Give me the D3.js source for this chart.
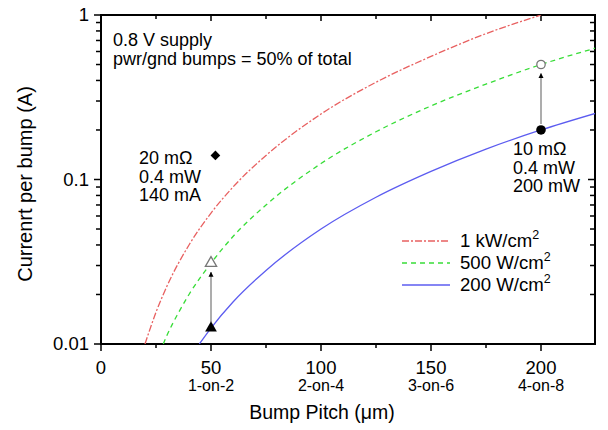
<!DOCTYPE html>
<html>
<head>
<meta charset="utf-8">
<script src="https://cdn.jsdelivr.net/npm/d3@7"></script>
<style>
  body { margin: 0; background: #fff; }
  svg { display: block; font-family: "Liberation Sans", Arial, sans-serif; }
</style>
</head>
<body>
<svg id="chart" width="608" height="430"></svg>
<script>
// curves: current per bump (A) vs bump pitch (um)
const redPitch   = [20, 25, 30, 40, 50, 60, 75, 100, 125, 150, 175, 200]
const redAmps    = [0.010, 0.0156, 0.0225, 0.040, 0.0625, 0.090, 0.14, 0.25, 0.39, 0.56, 0.77, 1.0]
const greenPitch = [28.3, 30, 35, 40, 50, 60, 75, 100, 125, 150, 175, 200, 225]
const greenAmps  = [0.010, 0.0113, 0.0153, 0.020, 0.031, 0.045, 0.070, 0.125, 0.195, 0.28, 0.38, 0.50, 0.63]
const bluePitch  = [44.7, 50, 60, 75, 100, 125, 150, 175, 200, 225]
const blueAmps   = [0.010, 0.0125, 0.018, 0.028, 0.050, 0.078, 0.112, 0.153, 0.20, 0.253]

const legendLabels = ["1 kW/cm", "500 W/cm", "200 W/cm"]

// markers
const diamond    = { pitch: 52, amps: 0.14 }
const triOpen    = { pitch: 50, amps: 0.031 }
const triFilled  = { pitch: 50, amps: 0.0125 }
const circOpen   = { pitch: 200, amps: 0.50 }
const circFilled = { pitch: 200, amps: 0.20 }

const xTicks = [0, 50, 100, 150, 200]
const xSubLabels = ["", "1-on-2", "2-on-4", "3-on-6", "4-on-8"]
const yTicks = [0.01, 0.1, 1]

const svg = d3.select("#chart")
const pLeft = 101, pRight = 595, pTop = 15, pBottom = 344

const x = d3.scaleLinear().domain([0, 225]).range([pLeft, pLeft + 225 * 2.2])
const y = d3.scaleLog().domain([0.01, 1]).range([pBottom, pTop])

const defs = svg.append("defs")
defs.append("clipPath").attr("id", "clip")
  .append("rect").attr("x", pLeft).attr("y", pTop).attr("width", pRight - pLeft).attr("height", pBottom - pTop)

const minorY = []
;[0.01, 0.1].forEach(d => { for (let k = 2; k <= 9; k++) minorY.push(d * k) })
const minorX = [25, 75, 125, 175, 225]

// axes ticks
const axes = svg.append("g").attr("stroke", "#000").attr("stroke-width", 1.5)
yTicks.forEach(v => {
  axes.append("line").attr("x1", pLeft - 7).attr("x2", pLeft).attr("y1", y(v)).attr("y2", y(v))
  axes.append("line").attr("x1", pRight - 7).attr("x2", pRight).attr("y1", y(v)).attr("y2", y(v))
})
minorY.forEach(v => {
  axes.append("line").attr("x1", pLeft - 5).attr("x2", pLeft).attr("y1", y(v)).attr("y2", y(v))
  axes.append("line").attr("x1", pRight - 5).attr("x2", pRight).attr("y1", y(v)).attr("y2", y(v))
})
xTicks.forEach(v => {
  axes.append("line").attr("x1", x(v)).attr("x2", x(v)).attr("y1", pBottom).attr("y2", pBottom + 7)
  axes.append("line").attr("x1", x(v)).attr("x2", x(v)).attr("y1", pTop).attr("y2", pTop + 6)
})
minorX.forEach(v => {
  if (x(v) > pRight - 2) return
  axes.append("line").attr("x1", x(v)).attr("x2", x(v)).attr("y1", pBottom).attr("y2", pBottom + 4)
  axes.append("line").attr("x1", x(v)).attr("x2", x(v)).attr("y1", pTop).attr("y2", pTop + 4)
})
svg.append("rect").attr("x", pLeft).attr("y", pTop).attr("width", pRight - pLeft).attr("height", pBottom - pTop)
  .attr("fill", "none").attr("stroke", "#000").attr("stroke-width", 2)

// tick labels
svg.selectAll(".ylab").data(yTicks).enter().append("text")
  .attr("x", pLeft - 12).attr("y", d => y(d) + 6).attr("text-anchor", "end")
  .attr("font-size", 18.5).text(d => d)

svg.selectAll(".xlab").data(xTicks).enter().append("text")
  .attr("x", d => x(d)).attr("y", 374).attr("text-anchor", "middle")
  .attr("font-size", 18.5).text(d => d)

svg.selectAll(".xsub").data(xTicks).enter().append("text")
  .attr("x", d => x(d)).attr("y", 391).attr("text-anchor", "middle")
  .attr("font-size", 16).text((d, i) => xSubLabels[i])

svg.append("text").attr("x", 322).attr("y", 419).attr("text-anchor", "middle")
  .attr("font-size", 19.5).text("Bump Pitch (\u03bcm)")

svg.append("text").attr("transform", "translate(32,184) rotate(-90)").attr("text-anchor", "middle")
  .attr("font-size", 20).text("Currenrt per bump (A)")

// curves
const line = d3.line().x(d => x(d[0])).y(d => y(d[1])).curve(d3.curveMonotoneX)
const series = [
  { p: redPitch, a: redAmps, color: "#e86060", dash: "7,2,2,2" },
  { p: greenPitch, a: greenAmps, color: "#38dd38", dash: "5,4" },
  { p: bluePitch, a: blueAmps, color: "#5c5cf0", dash: null }
]
const plot = svg.append("g").attr("clip-path", "url(#clip)")
series.forEach(s => {
  plot.append("path")
    .datum(s.p.map((v, i) => [v, s.a[i]]))
    .attr("d", line)
    .attr("fill", "none")
    .attr("stroke", s.color)
    .attr("stroke-width", 1.3)
    .attr("stroke-dasharray", s.dash)
})

// arrows
defs.append("marker").attr("id", "head")
  .attr("viewBox", "0 0 10 10").attr("refX", 9).attr("refY", 5)
  .attr("markerWidth", 5).attr("markerHeight", 7).attr("markerUnits", "userSpaceOnUse")
  .attr("orient", "auto")
  .append("path").attr("d", "M0,0L10,5L0,10Z").attr("fill", "#000")

const arrow = (from, to) => svg.append("line")
  .attr("x1", x(from.pitch)).attr("y1", y(from.amps) - 6)
  .attr("x2", x(to.pitch)).attr("y2", y(to.amps) + 9)
  .attr("stroke", "#999").attr("stroke-width", 1.6).attr("marker-end", "url(#head)")
arrow(triFilled, triOpen)
arrow(circFilled, circOpen)

// markers
const sym = (t, size) => d3.symbol().type(t).size(size)
svg.append("path").attr("d", sym(d3.symbolDiamond2 || d3.symbolDiamond, 60)())
  .attr("transform", `translate(${x(diamond.pitch)},${y(diamond.amps)})`).attr("fill", "#000")
svg.append("path").attr("d", sym(d3.symbolTriangle, 60)())
  .attr("transform", `translate(${x(triFilled.pitch)},${y(triFilled.amps)})`).attr("fill", "#000")
svg.append("path").attr("d", sym(d3.symbolTriangle, 55)())
  .attr("transform", `translate(${x(triOpen.pitch)},${y(triOpen.amps)})`)
  .attr("fill", "#fff").attr("stroke", "#777").attr("stroke-width", 1.3)
svg.append("circle").attr("cx", x(circFilled.pitch)).attr("cy", y(circFilled.amps)).attr("r", 4.8).attr("fill", "#000")
svg.append("circle").attr("cx", x(circOpen.pitch)).attr("cy", y(circOpen.amps)).attr("r", 4.2)
  .attr("fill", "#fff").attr("stroke", "#777").attr("stroke-width", 1.3)

// text notes
const note = (lines, x0, y0, dy) => lines.forEach((t, i) =>
  svg.append("text").attr("x", x0).attr("y", y0 + i * dy).attr("font-size", 18).text(t))
note(["0.8 V supply", "pwr/gnd bumps = 50% of total"], 113, 46, 18.5)
note(["20 m\u03a9", "0.4 mW", "140 mA"], 139, 164, 18.5)
note(["10 m\u03a9", "0.4 mW", "200 mW"], 513, 155, 18.5)

// legend
const leg = svg.append("g")
series.forEach((s, i) => {
  const ly = 241 + i * 22
  leg.append("line").attr("x1", 402).attr("x2", 450).attr("y1", ly).attr("y2", ly)
    .attr("stroke", s.color).attr("stroke-width", 1.3).attr("stroke-dasharray", s.dash)
  const t = leg.append("text").attr("x", 460).attr("y", ly + 6).attr("font-size", 18.6).text(legendLabels[i])
  t.append("tspan").attr("dy", -8).attr("font-size", 12.5).text("2")
})
</script>
</body>
</html>
